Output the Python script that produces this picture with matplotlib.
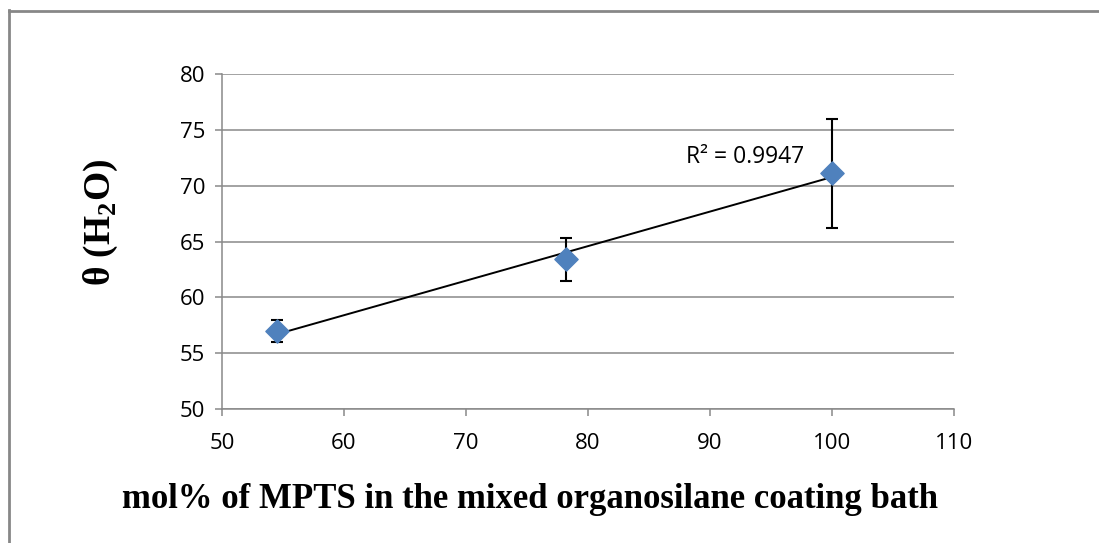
import numpy as np
import matplotlib
matplotlib.use("Agg")
import matplotlib.pyplot as plt

plt.rcParams["mathtext.fontset"] = "custom"
plt.rcParams["mathtext.bf"] = "Liberation Serif:bold"
plt.rcParams["mathtext.rm"] = "Liberation Serif"

# MPTS content of the coating bath vs. water contact angle
mol_pct = [54.5, 78.2, 100.0]
theta = [57.0, 63.4, 71.1]
theta_err = [1.0, 1.9, 4.9]
r2_label = "R² = 0.9947"

x_ticks = [50, 60, 70, 80, 90, 100, 110]
y_ticks = [50, 55, 60, 65, 70, 75, 80]

W, H = 1099, 543
fig = plt.figure(figsize=(W / 100, H / 100), dpi=100)
fig.patch.set_facecolor("white")

# outer chart frame (left and top edges visible)
frame_c = "#878787"
fig.add_artist(plt.Line2D([8.5 / W, 8.5 / W], [0, 1 - 10 / H], transform=fig.transFigure,
                          color=frame_c, lw=2))
fig.add_artist(plt.Line2D([8.5 / W, 1], [1 - 10.5 / H, 1 - 10.5 / H], transform=fig.transFigure,
                          color=frame_c, lw=2))

left, right, top, bottom = 222 / W, 954 / W, 74 / H, 409 / H
ax = fig.add_axes([left, 1 - bottom, right - left, bottom - top])

grid_c = "#898989"
ax.set_xlim(50, 110)
ax.set_ylim(50, 80)
ax.set_xticks(x_ticks)
ax.set_yticks(y_ticks)
ax.yaxis.grid(True, color=grid_c, lw=1.1)
ax.set_axisbelow(True)
for s in ("top", "right"):
    ax.spines[s].set_visible(False)
for s in ("left", "bottom"):
    ax.spines[s].set_color(grid_c)
    ax.spines[s].set_linewidth(1.1)
ax.tick_params(axis="both", direction="out", length=5, width=1.1, color=grid_c,
               labelsize=16)
ax.tick_params(axis="x", pad=12)
ax.tick_params(axis="y", pad=7)
for lab in ax.get_xticklabels() + ax.get_yticklabels():
    lab.set_fontfamily("Open Sans")

# error bars
ax.errorbar(mol_pct, theta, yerr=theta_err, fmt="none", ecolor="black",
            elinewidth=1.5, capsize=4.5, capthick=1.5, zorder=3)

# linear trendline over the data range
coef = np.polyfit(mol_pct, theta, 1)
xs = np.array([min(mol_pct), max(mol_pct)])
ax.plot(xs, np.polyval(coef, xs), color="black", lw=1.4, zorder=4)

ax.scatter(mol_pct, theta, marker="D", s=140, color="#4F81BD", zorder=5,
           edgecolors="#4F81BD")

ax.text(88.0, 72.6, r2_label, fontsize=16.5, fontfamily="Open Sans", va="center")

serif = "Liberation Serif"
fig.text(530 / W, 1 - 500 / H, "mol% of MPTS in the mixed organosilane coating bath",
         fontsize=25, fontweight="bold", fontfamily=serif, ha="center", va="center")
fig.text(101 / W, 1 - 222 / H, r"θ (H$_\mathbf{2}$O)", fontsize=27, fontweight="bold",
         fontfamily=serif, ha="center", va="center", rotation=90)

fig.savefig("out.png", dpi=100, facecolor="white")
